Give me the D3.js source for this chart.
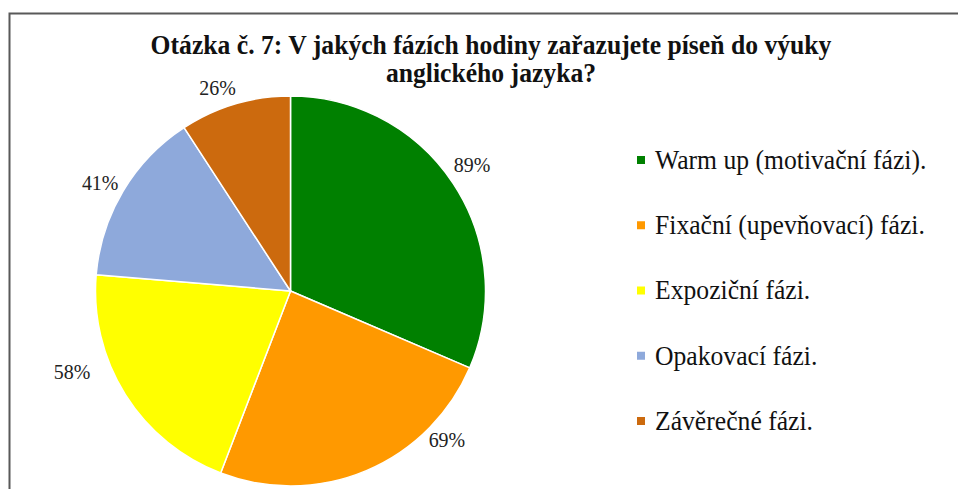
<!DOCTYPE html>
<html>
<head>
<meta charset="utf-8">
<script src="https://cdn.jsdelivr.net/npm/d3@7"></script>
<style>
  html, body { margin: 0; padding: 0; background: #fff; }
  svg { display: block; }
</style>
</head>
<body>
<svg id="chart" width="958" height="489"></svg>
<script>
// ---- data ----
const categories = [
  "Warm up (motivační fázi).",
  "Fixační (upevňovací) fázi.",
  "Expoziční fázi.",
  "Opakovací fázi.",
  "Závěrečné fázi."
];
const values = [89, 69, 58, 41, 26];
const labels = ["89%", "69%", "58%", "41%", "26%"];
const colors = ["#008000", "#FF9900", "#FFFF00", "#8EA9DB", "#CC6A0E"];
const titleLines = [
  "Otázka č. 7: V jakých fázích hodiny zařazujete píseň do výuky",
  "anglického jazyka?"
];
// label placement tweaks (Excel "outside end" adjustments), degrees / px
const labelAngleShift = [-1.4, -23.5, 11.8, -1.2, -3.2];
const labelRadius = [221, 216, 233, 219, 216];

// ---- layout ----
const svg = d3.select("#chart");
const W = 958, H = 489;
const cx = 290.5, cy = 291, R = 195;
const font = "'Liberation Serif', 'Times New Roman', serif";
const sx = 0.95; // slight horizontal squeeze of the text as in the reference

// frame
svg.append("rect")
  .attr("x", 9.5).attr("y", 13.5)
  .attr("width", W + 20).attr("height", H + 20)
  .attr("fill", "#fff")
  .attr("stroke", "#595959")
  .attr("stroke-width", 2);

// title
titleLines.forEach((t, i) => {
  svg.append("g")
    .attr("transform", `translate(491,${i === 0 ? 54 : 82}) scale(${sx},1)`)
    .append("text")
    .attr("text-anchor", "middle")
    .attr("font-family", font)
    .attr("font-weight", "bold")
    .attr("font-size", 27)
    .attr("fill", "#111")
    .text(t);
});

// pie
const pie = d3.pie().sort(null).value(d => d)(values);
const arc = d3.arc().innerRadius(0).outerRadius(R);
const g = svg.append("g").attr("transform", `translate(${cx},${cy})`);

g.selectAll("path.slice")
  .data(pie)
  .join("path")
  .attr("class", "slice")
  .attr("d", arc)
  .attr("fill", (d, i) => colors[i])
  .attr("stroke", "#fff")
  .attr("stroke-width", 1.5)
  .attr("stroke-linejoin", "round");

g.selectAll("g.lbl")
  .data(pie)
  .join("g")
  .attr("class", "lbl")
  .attr("transform", (d, i) => {
    const a = (d.startAngle + d.endAngle) / 2 + labelAngleShift[i] * Math.PI / 180;
    const r = labelRadius[i];
    return `translate(${r * Math.sin(a)},${-r * Math.cos(a)}) scale(${sx},1)`;
  })
  .append("text")
  .attr("dy", "0.35em")
  .attr("text-anchor", "middle")
  .attr("font-family", font)
  .attr("font-size", 21)
  .attr("fill", "#222")
  .text((d, i) => labels[i]);

// legend
const legY = d3.scalePoint().domain(categories).range([160, 421]);
const items = svg.append("g").selectAll("g.item")
  .data(categories)
  .join("g")
  .attr("class", "item")
  .attr("transform", d => `translate(637,${legY(d)})`);
items.append("rect")
  .attr("x", 0).attr("y", -4)
  .attr("width", 8).attr("height", 8)
  .attr("fill", (d, i) => colors[i]);
items.append("g")
  .attr("transform", `translate(18,0) scale(${sx},1)`)
  .append("text")
  .attr("dy", "0.33em")
  .attr("font-family", font)
  .attr("font-size", 27)
  .attr("fill", "#111")
  .text(d => d);
</script>
</body>
</html>
